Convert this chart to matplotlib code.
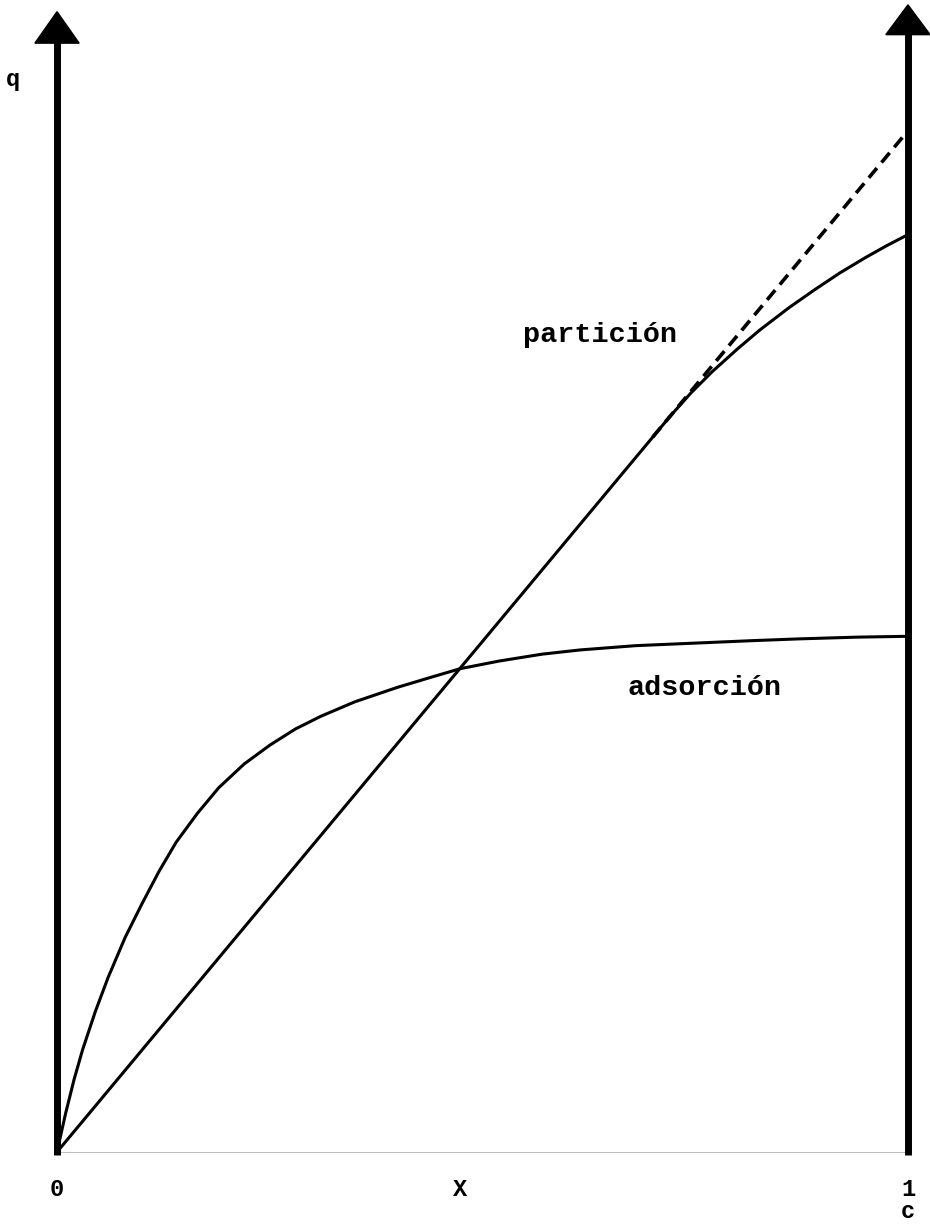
import matplotlib
matplotlib.use("Agg")
import matplotlib.pyplot as plt
from matplotlib.patches import Polygon

# ---- data (c normalised 0..1, q in arbitrary units) ----
ads_c = [0.0, 0.01, 0.02, 0.03, 0.045, 0.06, 0.08, 0.10, 0.12, 0.14, 0.165, 0.19, 0.22, 0.25,
         0.28, 0.31, 0.35, 0.40, 0.44, 0.474, 0.52, 0.57, 0.615, 0.68, 0.75, 0.82, 0.873, 0.94, 1.0]
ads_q = [0.0, 0.045, 0.085, 0.120, 0.165, 0.205, 0.252, 0.292, 0.330, 0.364, 0.398, 0.428, 0.456, 0.478,
         0.497, 0.512, 0.529, 0.546, 0.558, 0.568, 0.577, 0.585, 0.590, 0.595, 0.598, 0.601, 0.603, 0.605, 0.606]

lin_c = [0.0, 0.72]
lin_q = [0.0, 0.864]

part_c = [0.72, 0.745, 0.77, 0.80, 0.826, 0.86, 0.89, 0.92, 0.95, 0.975, 1.0]
part_q = [0.864, 0.892, 0.917, 0.944, 0.966, 0.992, 1.013, 1.033, 1.051, 1.065, 1.078]

dash_c = [0.70, 1.0]
dash_q = [0.84, 1.20]

x_tick_pos = [0.0, 0.474, 1.0]
x_tick_lab = ["0", "X", "1"]

# ---- figure ----
fig = plt.figure(figsize=(9.3, 12.24), dpi=100)
ax = fig.add_axes([0, 0, 1, 1])
ax.set_xlim(-0.067, 1.0259)
ax.set_ylim(-0.0846, 1.3537)
ax.axis("off")

axis_lw = 5.0
curve_lw = 2.2

# vertical axes
ax.plot([0, 0], [-0.004, 1.31], color="black", lw=axis_lw, solid_capstyle="butt")
ax.plot([1, 1], [-0.004, 1.32], color="black", lw=axis_lw, solid_capstyle="butt")
# bottom line (faint)
ax.plot([0, 1], [0, 0], color="black", lw=0.6, alpha=0.3)

# arrow heads
ax.add_patch(Polygon([[-0.026, 1.303], [0.026, 1.303], [0.0, 1.340]], closed=True, color="black"))
ax.add_patch(Polygon([[0.974, 1.313], [1.026, 1.313], [1.0, 1.348]], closed=True, color="black"))

# curves
ax.plot(ads_c, ads_q, color="black", lw=curve_lw, solid_joinstyle="round")
ax.plot(lin_c, lin_q, color="black", lw=curve_lw)
ax.plot(part_c, part_q, color="black", lw=curve_lw, solid_joinstyle="round")
ax.plot(dash_c, dash_q, color="black", lw=curve_lw + 0.4, linestyle=(0, (3.5, 2.0)))

font = dict(family=["Liberation Mono", "DejaVu Sans Mono"], color="black", weight="bold")
ax.text(0.638, 0.960, "partición", fontsize=20.5, ha="center", va="center", **font)
ax.text(0.761, 0.545, "adsorción", fontsize=20.5, ha="center", va="center", **font)
ax.text(-0.052, 1.260, "q", fontsize=17, ha="center", va="center", **font)

for p, lab in zip(x_tick_pos, x_tick_lab):
    ax.text(p, -0.044, lab, fontsize=17, ha="center", va="center", **font)
ax.text(1.0, -0.070, "c", fontsize=17, ha="center", va="center", **font)

fig.savefig("out.png", dpi=100)
